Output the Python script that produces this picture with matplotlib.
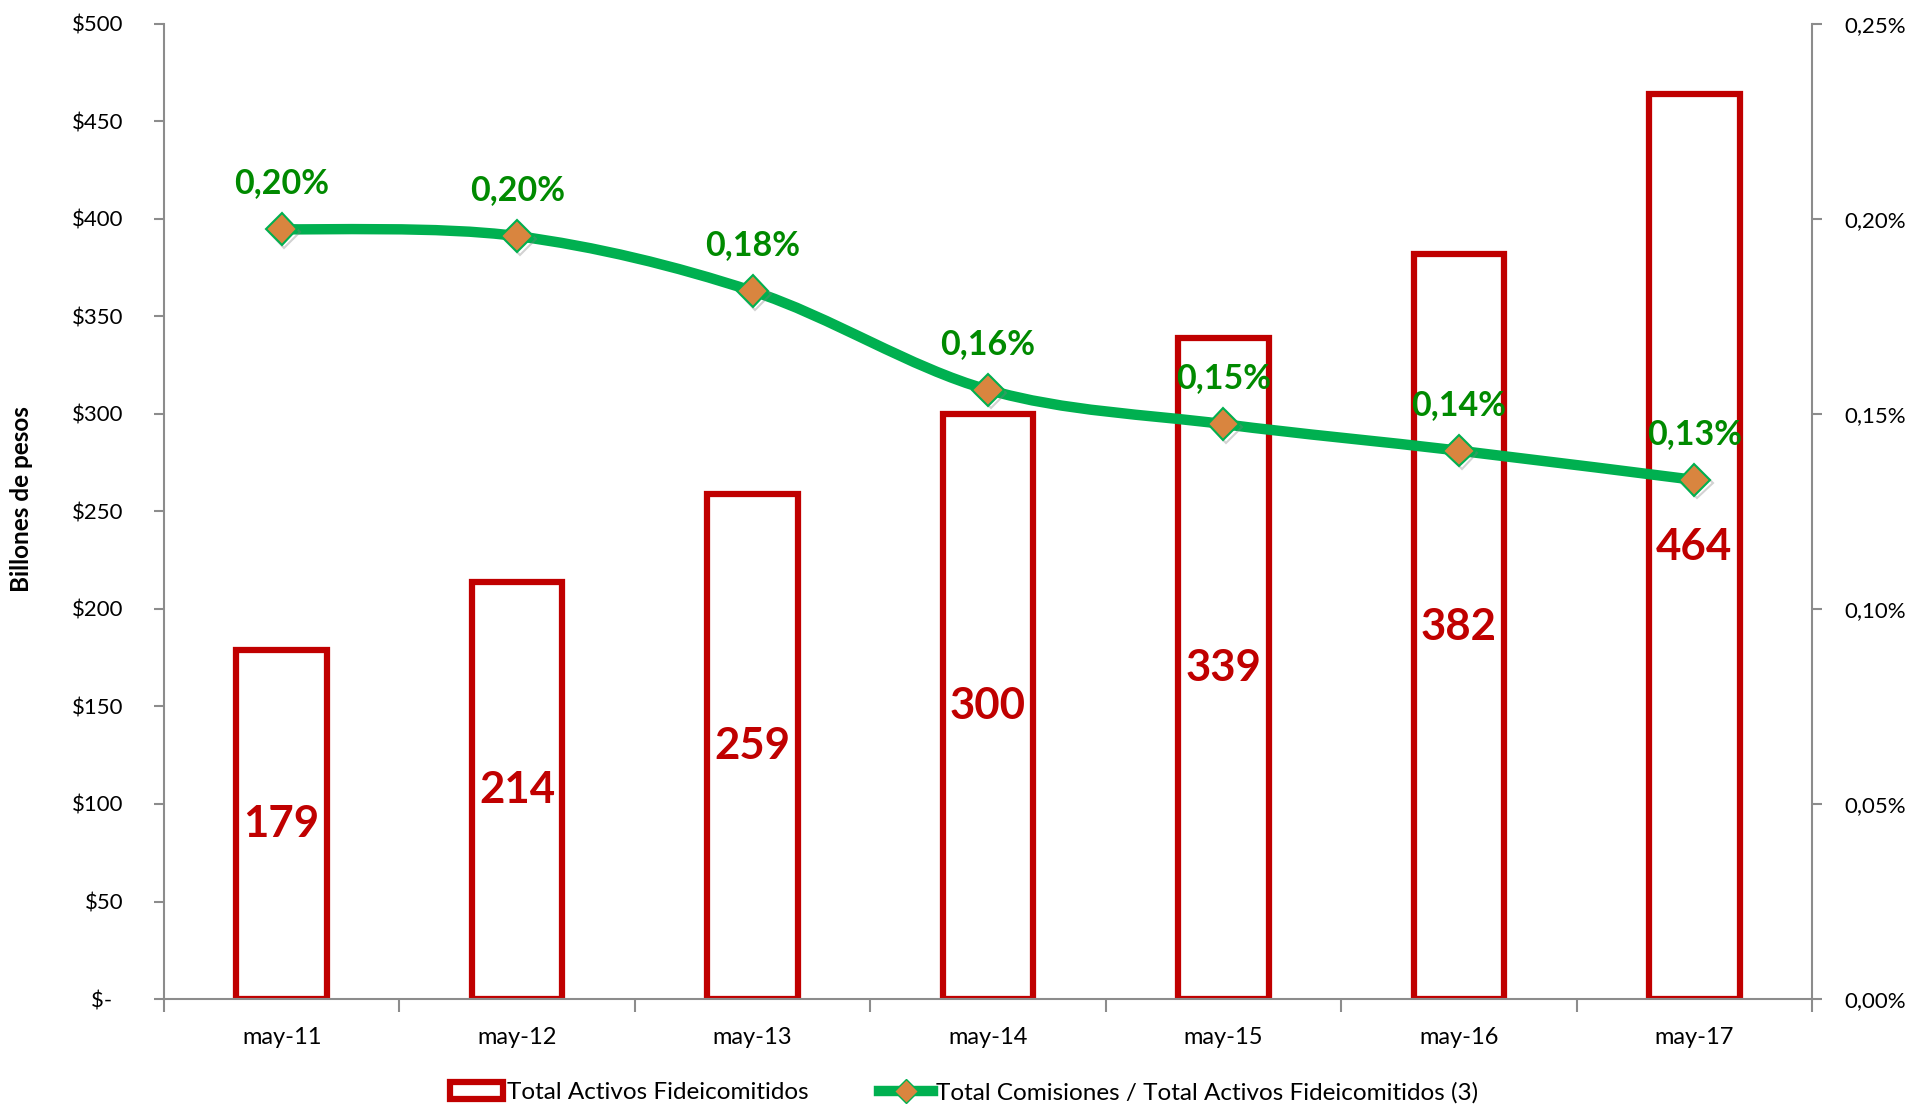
import matplotlib
matplotlib.use("Agg")
import matplotlib.pyplot as plt
import matplotlib.patheffects as pe
from matplotlib.path import Path
from matplotlib.patches import PathPatch, Patch
from matplotlib.lines import Line2D

# -------------------------------
# Data
# -------------------------------
categories = ["may-11", "may-12", "may-13", "may-14", "may-15", "may-16", "may-17"]
activos = [179, 214, 259, 300, 339, 382, 464]          # billones de pesos
comisiones_pct = [0.1974, 0.1956, 0.1815, 0.1562, 0.1474, 0.1406, 0.1331]  # %

left_ticks = [0, 50, 100, 150, 200, 250, 300, 350, 400, 450, 500]
right_ticks = [0.0, 0.05, 0.10, 0.15, 0.20, 0.25]

RED = "#C00000"
GREEN = "#00B050"
DARK_GREEN = "#008A00"
ORANGE = "#D9853F"
GRAY = "#8C8C8C"

plt.rcParams["font.family"] = ["Lato", "DejaVu Sans"]

fig = plt.figure(figsize=(19.09, 11.04), dpi=100)
ax = fig.add_axes([0.0859, 0.0951, 0.8633, 0.8832])
ax2 = ax.twinx()

x = list(range(len(categories)))

# -------------------------------
# Bars
# -------------------------------
ax.bar(x, activos, width=0.385, facecolor="white", edgecolor=RED, linewidth=4.5, zorder=2)
for xi, v in zip(x, activos):
    ax.text(xi, v / 2, str(v), ha="center", va="center", color=RED,
            fontsize=31.5, fontweight="bold", zorder=3)

ax.set_xlim(-0.5, len(categories) - 0.5)
ax.set_ylim(0, 500)
ax.set_yticks(left_ticks)
ax.set_yticklabels(["$-  "] + [f"${t}" for t in left_ticks[1:]])
ax.set_xticks(x)
ax.set_xticklabels(categories)
ax.set_xticks([i - 0.5 for i in range(len(categories) + 1)], minor=True)
ax.tick_params(axis="x", which="major", length=0, pad=20, labelsize=17)
ax.tick_params(axis="x", which="minor", length=9, width=1.5, color=GRAY, direction="out")
ax.tick_params(axis="y", length=7, width=1.5, color=GRAY, pad=22, labelsize=16)

# y label placed in figure coords so it stays inside the canvas
fig.text(22 / 1909, 1 - 499 / 1104, "Billones de pesos", rotation=90, ha="center", va="center",
         fontsize=17.5, fontweight="bold")

for side in ["top", "right"]:
    ax.spines[side].set_visible(False)
for side in ["left", "bottom"]:
    ax.spines[side].set_color(GRAY)
    ax.spines[side].set_linewidth(1.5)

# -------------------------------
# Smoothed line (secondary axis)
# -------------------------------
pts = list(zip(x, comisiones_pct))
verts = [pts[0]]
codes = [Path.MOVETO]
for i in range(len(pts) - 1):
    p0 = pts[i - 1] if i > 0 else pts[i]
    p1 = pts[i]
    p2 = pts[i + 1]
    p3 = pts[i + 2] if i + 2 < len(pts) else pts[i + 1]
    c1 = (p1[0] + (p2[0] - p0[0]) / 6, p1[1] + (p2[1] - p0[1]) / 6)
    c2 = (p2[0] - (p3[0] - p1[0]) / 6, p2[1] - (p3[1] - p1[1]) / 6)
    verts += [c1, c2, p2]
    codes += [Path.CURVE4] * 3
ax2.add_patch(PathPatch(Path(verts, codes), facecolor="none", edgecolor=GREEN,
                        linewidth=7.5, capstyle="round", zorder=3))

ax2.plot(x, comisiones_pct, linestyle="none", marker="D", markersize=16,
         markerfacecolor=ORANGE, markeredgecolor=GREEN, markeredgewidth=1.5, zorder=4,
         path_effects=[pe.SimpleLineShadow(offset=(2, -2), alpha=0.35, shadow_color="gray"),
                       pe.Normal()])

for xi, v in zip(x, comisiones_pct):
    ax2.annotate(f"{v:.2f}".replace(".", ",") + "%", (xi, v), xytext=(0, 33),
                 textcoords="offset points", ha="center", va="center",
                 color=DARK_GREEN, fontsize=24.5, fontweight="bold", zorder=5)

ax2.set_ylim(0, 0.25)
ax2.set_yticks(right_ticks)
ax2.set_yticklabels([f"{t:.2f}".replace(".", ",") + "%" for t in right_ticks])
ax2.tick_params(axis="y", length=7, width=1.5, color=GRAY, pad=16, labelsize=16)
for side in ["top", "left", "bottom"]:
    ax2.spines[side].set_visible(False)
ax2.spines["right"].set_color(GRAY)
ax2.spines["right"].set_linewidth(1.5)

# -------------------------------
# Legend
# -------------------------------
handles = [
    Patch(facecolor="white", edgecolor=RED, linewidth=4.5),
    Line2D([0], [0], color=GREEN, linewidth=7.5, marker="D", markersize=12,
           markerfacecolor=ORANGE, markeredgecolor=GREEN),
]
labels = ["Total Activos Fideicomitidos", "Total Comisiones / Total Activos Fideicomitidos (3)"]
fig.legend(handles, labels, loc="lower center", bbox_to_anchor=(0.505, -0.019), ncol=2,
           frameon=False, fontsize=17.5, handlelength=2.2, handletextpad=0.15, columnspacing=2.9)

fig.savefig("out.png", dpi=100)
